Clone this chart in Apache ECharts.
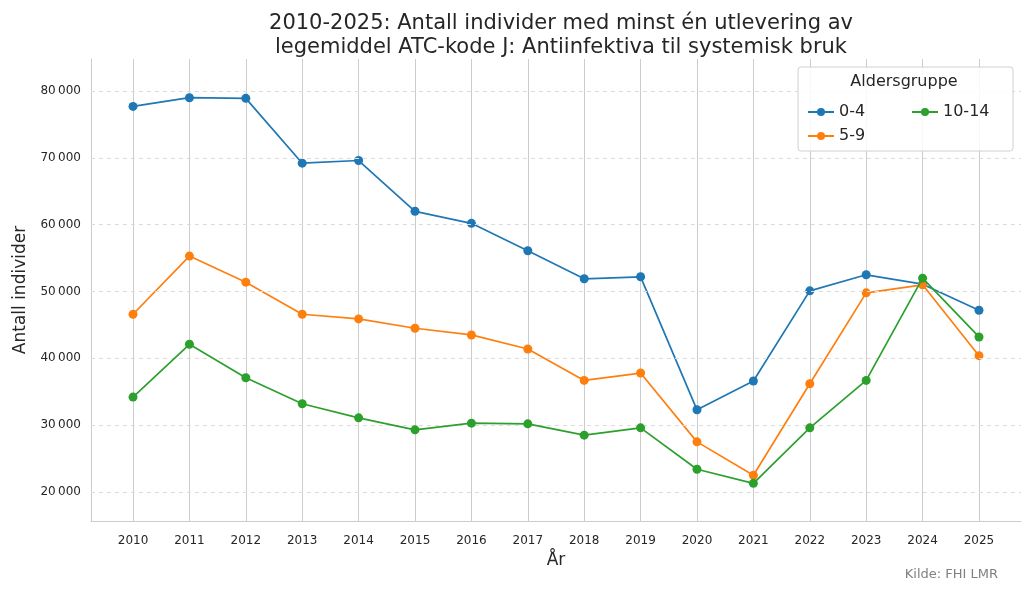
<!DOCTYPE html><html><head><meta charset="utf-8"><script src="https://cdn.jsdelivr.net/npm/echarts@6/dist/echarts.min.js"></script></head><body style="margin:0"><div id="c" style="width:1030px;height:591px"></div><script>
const years=[2010,2011,2012,2013,2014,2015,2016,2017,2018,2019,2020,2021,2022,2023,2024,2025];
const s04=[77700,79000,78900,69200,69600,62000,60200,56100,51900,52200,32300,36600,50100,52500,51100,47200];
const s59=[46600,55300,51400,46600,45900,44500,43500,41400,36700,37800,27500,22500,36200,49800,51000,40400];
const s1014=[34200,42100,37100,33200,31100,29300,30300,30200,28500,29600,23400,21300,29600,36700,52000,43200];
const yTicks=[20000,30000,40000,50000,60000,70000,80000];
const names=['0-4','5-9','10-14'];const colors=['#1f77b4','#ff7f0e','#2ca02c'];
const fmt=v=>String(v).replace(/\B(?=(\d{3})+(?!\d))/g,'\u2009');
const ch=echarts.init(document.getElementById('c'));
const mk=(n,d,i)=>({name:n,type:'line',data:years.map((y,k)=>[y,d[k]]),symbol:'circle',symbolSize:9,lineStyle:{width:1.7,color:colors[i]},itemStyle:{color:colors[i]},z:3+i});
const ser=[mk(names[0],s04,0),mk(names[1],s59,1),mk(names[2],s1014,2)];
ser[0].markLine={silent:true,symbol:'none',label:{show:false},lineStyle:{type:[4,4],color:'#dcdcdc',width:1},data:yTicks.map(v=>({yAxis:v}))};
ch.setOption({animation:false,textStyle:{fontFamily:'DejaVu Sans'},
title:{text:'2010-2025: Antall individer med minst én utlevering av\nlegemiddel ATC-kode J: Antiinfektiva til systemisk bruk',left:556,textAlign:'center',top:7,textStyle:{fontSize:21,fontWeight:'normal',color:'#262626',lineHeight:24}},
graphic:[{type:'rect',shape:{x:798,y:67,width:215,height:84,r:3},style:{fill:'rgba(255,255,255,0.85)',stroke:'#d0d0d0'},z:10},
{type:'text',x:904,y:74,style:{text:'Aldersgruppe',fontSize:16,fill:'#262626',textAlign:'center',fontFamily:'DejaVu Sans'},z:11},
{type:'text',right:32,bottom:10,style:{text:'Kilde: FHI LMR',fontSize:13,fill:'#808080',fontFamily:'DejaVu Sans'}}],
legend:[{data:['0-4','5-9'],orient:'vertical',left:802,top:99,itemGap:8,itemWidth:26,itemHeight:10,textStyle:{fontSize:16,color:'#262626'},z:12},
{data:['10-14'],orient:'vertical',left:906,top:99,itemWidth:26,itemHeight:10,textStyle:{fontSize:16,color:'#262626'},z:12}],
grid:{left:91,right:9,top:59,bottom:70},
xAxis:{type:'value',min:2009.255,max:2025.745,name:'År',nameLocation:'middle',nameGap:28,nameTextStyle:{fontSize:17,color:'#262626'},
axisLine:{show:true,lineStyle:{color:'#cccccc'}},axisTick:{show:false,customValues:years},
axisLabel:{customValues:years,formatter:v=>String(v),color:'#262626',fontSize:12,margin:14},splitLine:{show:true,lineStyle:{color:'#cccccc',width:1}}},
yAxis:{type:'value',min:15660,max:84790,name:'Antall individer',nameLocation:'middle',nameGap:62,nameTextStyle:{fontSize:17,color:'#262626'},
axisLine:{show:true,lineStyle:{color:'#cccccc'}},axisTick:{show:false,customValues:yTicks},splitLine:{show:false},
axisLabel:{customValues:yTicks,formatter:fmt,color:'#262626',fontSize:12,margin:10}},
series:ser});
</script></body></html>
